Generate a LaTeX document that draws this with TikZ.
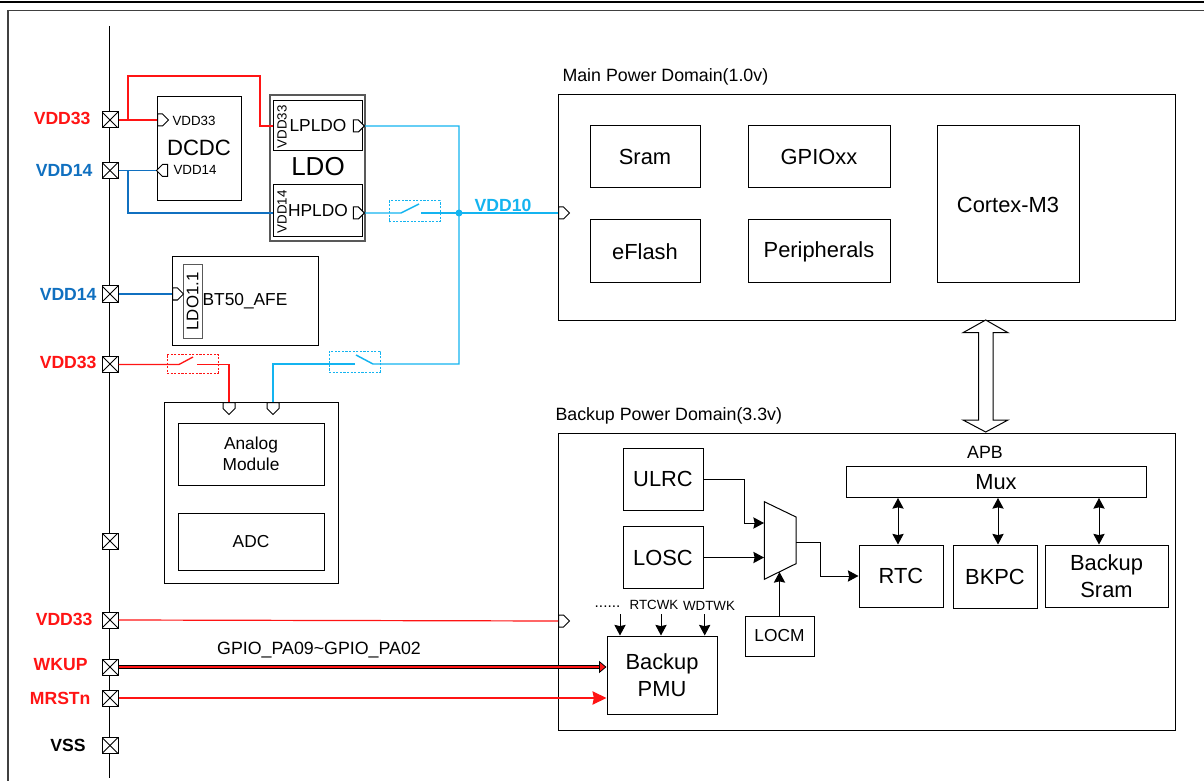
\documentclass[tikz,border=0pt]{standalone}
\usepackage{fontspec}
\setmainfont{Liberation Sans}
\usetikzlibrary{arrows.meta}
\usetikzlibrary{shapes.symbols}
\definecolor{railred}{RGB}{255,20,20}
\definecolor{railblue}{RGB}{16,112,192}
\definecolor{railcyan}{RGB}{20,180,240}
\def\px{0.75pt}

\begin{document}
\begin{tikzpicture}[x=0.75pt, y=-0.75pt, line width=0.75pt]
\tikzset{boxsize/.style 2 args={minimum width=#1*\px, minimum height=#2*\px}}
\tikzset{blockbox/.style={draw, inner sep=0pt, align=center, font=\fontsize{16.4}{20}\selectfont}}
\tikzset{smallbox/.style={blockbox, font=\fontsize{13}{16}\selectfont}}
\tikzset{tinytext/.style={inner sep=0pt, font=\fontsize{10}{12}\selectfont}}
\tikzset{midtext/.style={inner sep=0pt, font=\fontsize{13.35}{16}\selectfont}}
\tikzset{pinlabel/.style={anchor=east, inner sep=0pt, font=\bfseries\fontsize{13.2}{16}\selectfont}}
\tikzset{padcell/.style={draw, fill=white, inner sep=0pt, minimum size=16*\px, path picture={
  \draw (path picture bounding box.north west) -- (path picture bounding box.south east);
  \draw (path picture bounding box.south west) -- (path picture bounding box.north east);}}}
\tikzset{portcell/.style={draw, fill=white, shape=signal, inner sep=0pt, minimum width=11*\px, minimum height=12*\px}}
\tikzset{portdown/.style={draw, fill=white, shape=signal, signal to=south, inner sep=0pt, minimum width=12*\px, minimum height=6*\px}}
\tikzset{switchbox/.style={draw, line width=0.75pt, dash pattern=on 1.6pt off 1.1pt, inner sep=0pt}}
\tikzset{redwire/.style={draw=railred, line width=1pt}}
\tikzset{bluewire/.style={draw=railblue, line width=1pt}}
\tikzset{cyanwire/.style={draw=railcyan, line width=1.1pt}}
\tikzset{blacktip/.style={-{Stealth[length=8pt, width=8.5pt, inset=1pt]}}}
\tikzset{bothtips/.style={{Stealth[length=8pt, width=8.5pt, inset=1pt]}-{Stealth[length=8pt, width=8.5pt, inset=1pt]}}}

\useasboundingbox (0,0) rectangle (1204,781);

\draw[line width=1.9pt] (0,2) -- (1204,2);
\draw[line width=1.2pt, draw=black!75] (8,781) -- (8,10.5) -- (1204,10.5);
\draw[line width=0.9pt] (109.5,26) -- (109.5,778);

\node[padcell] (pada) at (110,120) {};
\node[padcell] (padb) at (110,170.5) {};
\node[padcell] (padc) at (110,294) {};
\node[padcell] (padd) at (110,364) {};
\node[padcell] (pade) at (110,541) {};
\node[padcell] (padf) at (110,620) {};
\node[padcell] (padg) at (110,667) {};
\node[padcell] (padh) at (110,698) {};
\node[padcell] (padi) at (110,745.5) {};

\node[pinlabel, text=railred] (labela) at (91,118) {VDD33};
\node[pinlabel, text=railblue] (labelb) at (93,170) {VDD14};
\node[pinlabel, text=railblue] (labelc) at (97,294) {VDD14};
\node[pinlabel, text=railred] (labeld) at (97,362) {VDD33};
\node[pinlabel, text=railred] (labelf) at (93,619) {VDD33};
\node[pinlabel, text=railred] (labelg) at (88,665) {WKUP};
\node[pinlabel, text=railred] (labelh) at (91,698) {MRSTn};
\node[pinlabel] (labeli) at (86,745) {VSS};

\node[blockbox, boxsize={84}{104}] (dcdc) at (199,149) {};
\node[inner sep=0pt, font=\fontsize{16.6}{20}\selectfont] (dcdctext) at (199,148) {DCDC};
\node[tinytext] (dcdcin) at (194,121) {VDD33};
\node[tinytext] (dcdcout) at (195,170) {VDD14};
\node[portcell, signal to=east, anchor=west] (portdcdca) at (157,120) {};
\node[portcell, signal to=west, anchor=east] (portdcdcb) at (168,170.5) {};

\node[blockbox, draw=black!65, line width=1.1pt, boxsize={95}{146}] (ldo) at (317.5,168) {};
\node[inner sep=0pt, font=\fontsize{19.5}{22}\selectfont] (ldotext) at (318,167) {LDO};
\node[smallbox, boxsize={89}{50}] (lpldo) at (318,126) {LPLDO};
\node[smallbox, boxsize={89}{52}] (hpldo) at (318,211) {HPLDO};
\node[tinytext, rotate=90] (lpin) at (282,127) {VDD33};
\node[tinytext, rotate=90] (hpin) at (282,212) {VDD14};
\node[portcell, signal to=east, anchor=east] (portlp) at (365,126) {};
\node[portcell, signal to=east, anchor=east] (porthp) at (365,213) {};

\node[smallbox, boxsize={146}{88}] (afe) at (245,301) {};
\node[smallbox, draw=black!65, boxsize={73}{19}, rotate=90, font=\fontsize{12.6}{15}\selectfont] (ldoafe) at (192.5,301.5) {LDO1.1};
\node[midtext, font=\fontsize{13}{16}\selectfont] (afetext) at (245,301) {BT50\_AFE};
\node[portcell, signal to=east, anchor=west] (portafe) at (172,294) {};

\node[smallbox, boxsize={174}{181}] (analog) at (251,492.5) {};
\node[smallbox, font=\fontsize{13}{15.7}\selectfont, boxsize={146}{62}] (analogmod) at (251,454) {Analog\\Module};
\node[smallbox, boxsize={146}{57}] (adc) at (251,541.5) {ADC};
\node[portdown, anchor=north] (portana) at (229,402) {};
\node[portdown, anchor=north] (portdig) at (273,402) {};

\node[anchor=west, midtext] (maintitle) at (562,77) {Main Power Domain(1.0v)};
\node[blockbox, boxsize={617}{225}] (mainpd) at (866.5,207.5) {};
\node[blockbox, boxsize={110}{62}] (sram) at (645,157) {Sram};
\node[blockbox, boxsize={142}{62}] (gpio) at (819,157) {GPIOxx};
\node[blockbox, boxsize={110}{63}] (eflash) at (645,251.5) {eFlash};
\node[blockbox, boxsize={142}{63}] (periph) at (819,251.5) {Peripherals};
\node[blockbox, boxsize={142}{157}] (cortex) at (1008,204.5) {Cortex-M3};
\node[portcell, signal to=east, anchor=west] (portmain) at (558,213) {};

\node[anchor=west, midtext] (backuptitle) at (555,416) {Backup Power Domain(3.3v)};
\node[blockbox, boxsize={617}{297}] (backuppd) at (866.5,581.5) {};
\draw[fill=white] (985.7,320) -- (1008,332.7) -- (993,332.7) -- (993,420) -- (1008,420) -- (985.7,432) -- (963,420) -- (978.7,420) -- (978.7,332.7) -- (963,332.7) -- cycle;
\node[midtext] (apb) at (985,452) {APB};
\node[blockbox, boxsize={300}{31}] (mux) at (996,482) {Mux};
\node[blockbox, boxsize={80}{62}] (ulrc) at (663,479) {ULRC};
\node[blockbox, boxsize={80}{62}] (losc) at (663,557.5) {LOSC};
\node[blockbox, boxsize={84}{62}] (rtc) at (901,576) {RTC};
\node[blockbox, boxsize={84}{63}] (bkpc) at (995,576.5) {BKPC};
\node[blockbox, boxsize={123}{62}] (bksram) at (1106.5,576) {Backup\\Sram};
\node[smallbox, boxsize={69}{40}] (locm) at (779.5,636) {LOCM};
\node[blockbox, boxsize={110}{78}] (pmu) at (662,675) {Backup\\PMU};
\node[portcell, signal to=east, anchor=west] (portbk) at (558,621) {};

\draw (764.3,501.7) -- (796,517) -- (796,563.7) -- (764.3,579.3) -- cycle;
\coordinate (muxa) at (764,523);
\coordinate (muxb) at (764,557.5);
\coordinate (muxc) at (796,542);
\coordinate (muxd) at (779.5,572);
\coordinate (bendc) at (820,542);
\coordinate (benda) at (744,479);

\draw[blacktip] (ulrc.east) -- (benda) |- (muxa);
\draw[blacktip] (losc.east) -- (muxb);
\draw[blacktip] (muxc) -- (bendc) |- (rtc.west);
\draw[blacktip] (locm.north) -- (muxd);
\draw[bothtips] (rtc.north -| 898,0) -- (mux.south -| 898,0);
\draw[bothtips] (bkpc.north -| 998,0) -- (mux.south -| 998,0);
\draw[bothtips] (bksram.north -| 1099,0) -- (mux.south -| 1099,0);

\node[tinytext, font=\fontsize{11.5}{12}\selectfont] (wkdots) at (607.5,606.5) {......};
\node[tinytext] (rtcwk) at (654,605) {RTCWK};
\node[tinytext] (wdtwk) at (709,606) {WDTWK};
\coordinate (wka) at (620,614);
\coordinate (wkb) at (661,614);
\coordinate (wkc) at (704.7,614);
\draw[blacktip] (wka) -- (wka |- pmu.north);
\draw[blacktip] (wkb) -- (wkb |- pmu.north);
\draw[blacktip] (wkc) -- (wkc |- pmu.north);

\coordinate (tapa) at (128,120);
\coordinate (risea) at (260,76);
\coordinate (tapb) at (128,170.5);
\draw[redwire] (pada.east) -- (portdcdca.west);
\draw[redwire] (tapa) |- (risea) |- (lpldo.west);
\draw[bluewire] (padb.east) -- (portdcdcb.west);
\draw[bluewire] (tapb) |- (hpldo.west |- porthp);
\draw[bluewire] (padc.east) -- (portafe.west);

\node[switchbox, draw=railcyan, boxsize={51}{21}] (switcha) at (414.5,211.5) {};
\node[switchbox, draw=railcyan, boxsize={51}{21}] (switchb) at (354.5,361.5) {};
\node[switchbox, draw=railred, boxsize={51}{19}] (switchc) at (192.5,363.5) {};

\coordinate (junction) at (459,213);
\coordinate (turna) at (459,126);
\coordinate (turnb) at (459,364);
\coordinate (hingea) at (401,213);
\coordinate (bladea) at (419,204);
\coordinate (contacta) at (421,213);
\coordinate (hingeb) at (373,364);
\coordinate (bladeb) at (356,355);
\coordinate (contactb) at (355,364);
\coordinate (hingec) at (179,364.5);
\coordinate (bladec) at (193,357);
\coordinate (contactc) at (197,364.5);

\draw[cyanwire] (portlp.east) -- (turna) -- (turnb) -- (hingeb) -- (bladeb);
\draw[cyanwire] (porthp.east) -- (hingea) -- (bladea);
\draw[cyanwire] (contacta) -- (junction) -- (portmain.west);
\draw[cyanwire] (contactb) -| (portdig.north);
\draw[redwire] (padd.east |- hingec) -- (hingec) -- (bladec);
\draw[redwire] (contactc) -| (portana.north);
\fill[railcyan] (junction) circle (3.5);
\node[pinlabel, anchor=center, text=railcyan] (labelmain) at (503,205) {VDD10};

\draw[draw=railred, line width=0.9pt] (padf.east) -- (portbk.west);
\node[midtext] (gpiotext) at (319,650) {GPIO\_PA09\~{}GPIO\_PA02};
\draw[line width=3.6pt] (padg.east) -- (602,667);
\draw[draw=railred, line width=2pt, -{Triangle[length=5.5pt, width=9pt, color=black, fill=railred, line width=0.6pt]}] (padg.east) -- (pmu.west |- padg);
\draw[draw=railred, line width=0.9pt, -{Stealth[length=10.5pt, width=10pt, inset=1pt]}] (padh.east) -- (pmu.west |- padh);
\end{tikzpicture}
\end{document}
